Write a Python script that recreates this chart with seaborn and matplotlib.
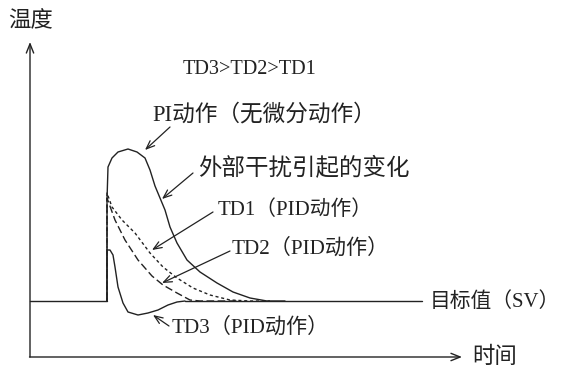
import matplotlib
matplotlib.use('Agg')
import matplotlib.pyplot as plt
import seaborn as sns
import pandas as pd

sns.set_theme(style='white')
plt.rcParams['font.family'] = ['Liberation Serif', 'Noto Sans CJK SC', 'DejaVu Sans']
plt.rcParams['lines.scale_dashes'] = False

# ---- data (time, temperature deviation from SV) ----
pi_time = [107, 107, 108, 112, 118, 128, 137, 145, 150, 155, 160, 165, 170, 177, 187, 200, 217, 233, 250, 267, 285]
pi_temp = [0, 101, 134, 143, 149, 152, 149, 143, 131, 115, 103, 91, 74, 58, 41, 29, 18, 9, 3, 0, 0]

td1_time = [107, 107, 112, 122, 135, 150, 163, 177, 193, 210, 230, 250, 270]
td1_temp = [0, 108, 94, 81, 68, 48, 34, 23, 13, 6, 1, 0, 0]

td2_time = [107, 107, 115, 125, 138, 152, 163, 177, 190, 200, 240]
td2_temp = [0, 103, 81, 61, 41, 25, 16, 8, 1, 0, 0]

td3_time = [107, 107, 110, 113, 115, 118, 123, 128, 138, 148, 158, 168, 177, 185]
td3_temp = [0, 51, 51, 46, 34, 14, -2, -11, -14, -12, -9, -4, -1, 0]

sv_left_time = [30, 107]
sv_right_time = [185, 422]
sv_value = 0

labels = ['温度', 'TD3>TD2>TD1', 'PI动作（无微分动作）', '外部干扰引起的变化',
          'TD1（PID动作）', 'TD2（PID动作）', 'TD3（PID动作）', '目标值（SV）', '时间']

ink = '#222222'
fig = plt.figure(figsize=(5.62, 3.70), dpi=100)
ax = fig.add_axes([0, 0, 1, 1])
ax.set_xlim(0, 562)
ax.set_ylim(-69, 301)
ax.axis('off')

def T(row):
    return 301 - row

lw = 1.0
sns.lineplot(x=sv_left_time, y=[sv_value] * 2, ax=ax, color=ink, lw=lw, estimator=None, sort=False)
sns.lineplot(x=sv_right_time, y=[sv_value] * 2, ax=ax, color=ink, lw=lw, estimator=None, sort=False)
sns.lineplot(x=pi_time, y=pi_temp, ax=ax, color=ink, lw=lw, estimator=None, sort=False)
sns.lineplot(x=td3_time, y=td3_temp, ax=ax, color=ink, lw=lw, estimator=None, sort=False)
sns.lineplot(x=td1_time, y=td1_temp, ax=ax, color=ink, lw=lw, estimator=None, sort=False,
             linestyle=(0, (2.2, 2.0)))
sns.lineplot(x=td2_time, y=td2_temp, ax=ax, color=ink, lw=lw, estimator=None, sort=False,
             linestyle=(0, (5.5, 2.5)))

# axes arrows
axis_arrow = dict(arrowstyle='->,head_length=0.55,head_width=0.22', lw=lw, color=ink,
                  shrinkA=0, shrinkB=0)
ax.annotate('', xy=(30, T(42)), xytext=(30, T(357)), arrowprops=axis_arrow)
ax.annotate('', xy=(462, T(357)), xytext=(29.5, T(357)), arrowprops=axis_arrow)

# pointer arrows
ptr = dict(arrowstyle='->,head_length=0.5,head_width=0.2', lw=0.9, color=ink,
           shrinkA=0, shrinkB=0)
pointers = [((170, 127), (145, 150)),
            ((193, 173), (162, 199)),
            ((213, 212), (152, 250)),
            ((230, 251), (162, 283)),
            ((169, 326), (153, 315))]
for (sx, sy), (tx, ty) in pointers:
    ax.annotate('', xy=(tx, T(ty)), xytext=(sx, T(sy)), arrowprops=ptr)

# text labels: (left, centre row, right)
spots = [(8, 22, 53), (183, 70, 318), (152, 115, 377), (198, 168, 410),
         (218, 210, 373), (232, 249, 390), (172, 328, 330), (430, 302, 561), (472, 357, 517)]
texts = []
for lab, (l, r_, rr) in zip(labels, spots):
    t = ax.text(l, T(r_), lab, fontsize=14, ha='left', va='center', color=ink)
    texts.append((t, rr - l))
fig.canvas.draw()
rend = fig.canvas.get_renderer()
for t, target in texts:
    w = t.get_window_extent(rend).width
    t.set_fontsize(14 * target / w)

fig.savefig('out.png', dpi=100, facecolor='white')
